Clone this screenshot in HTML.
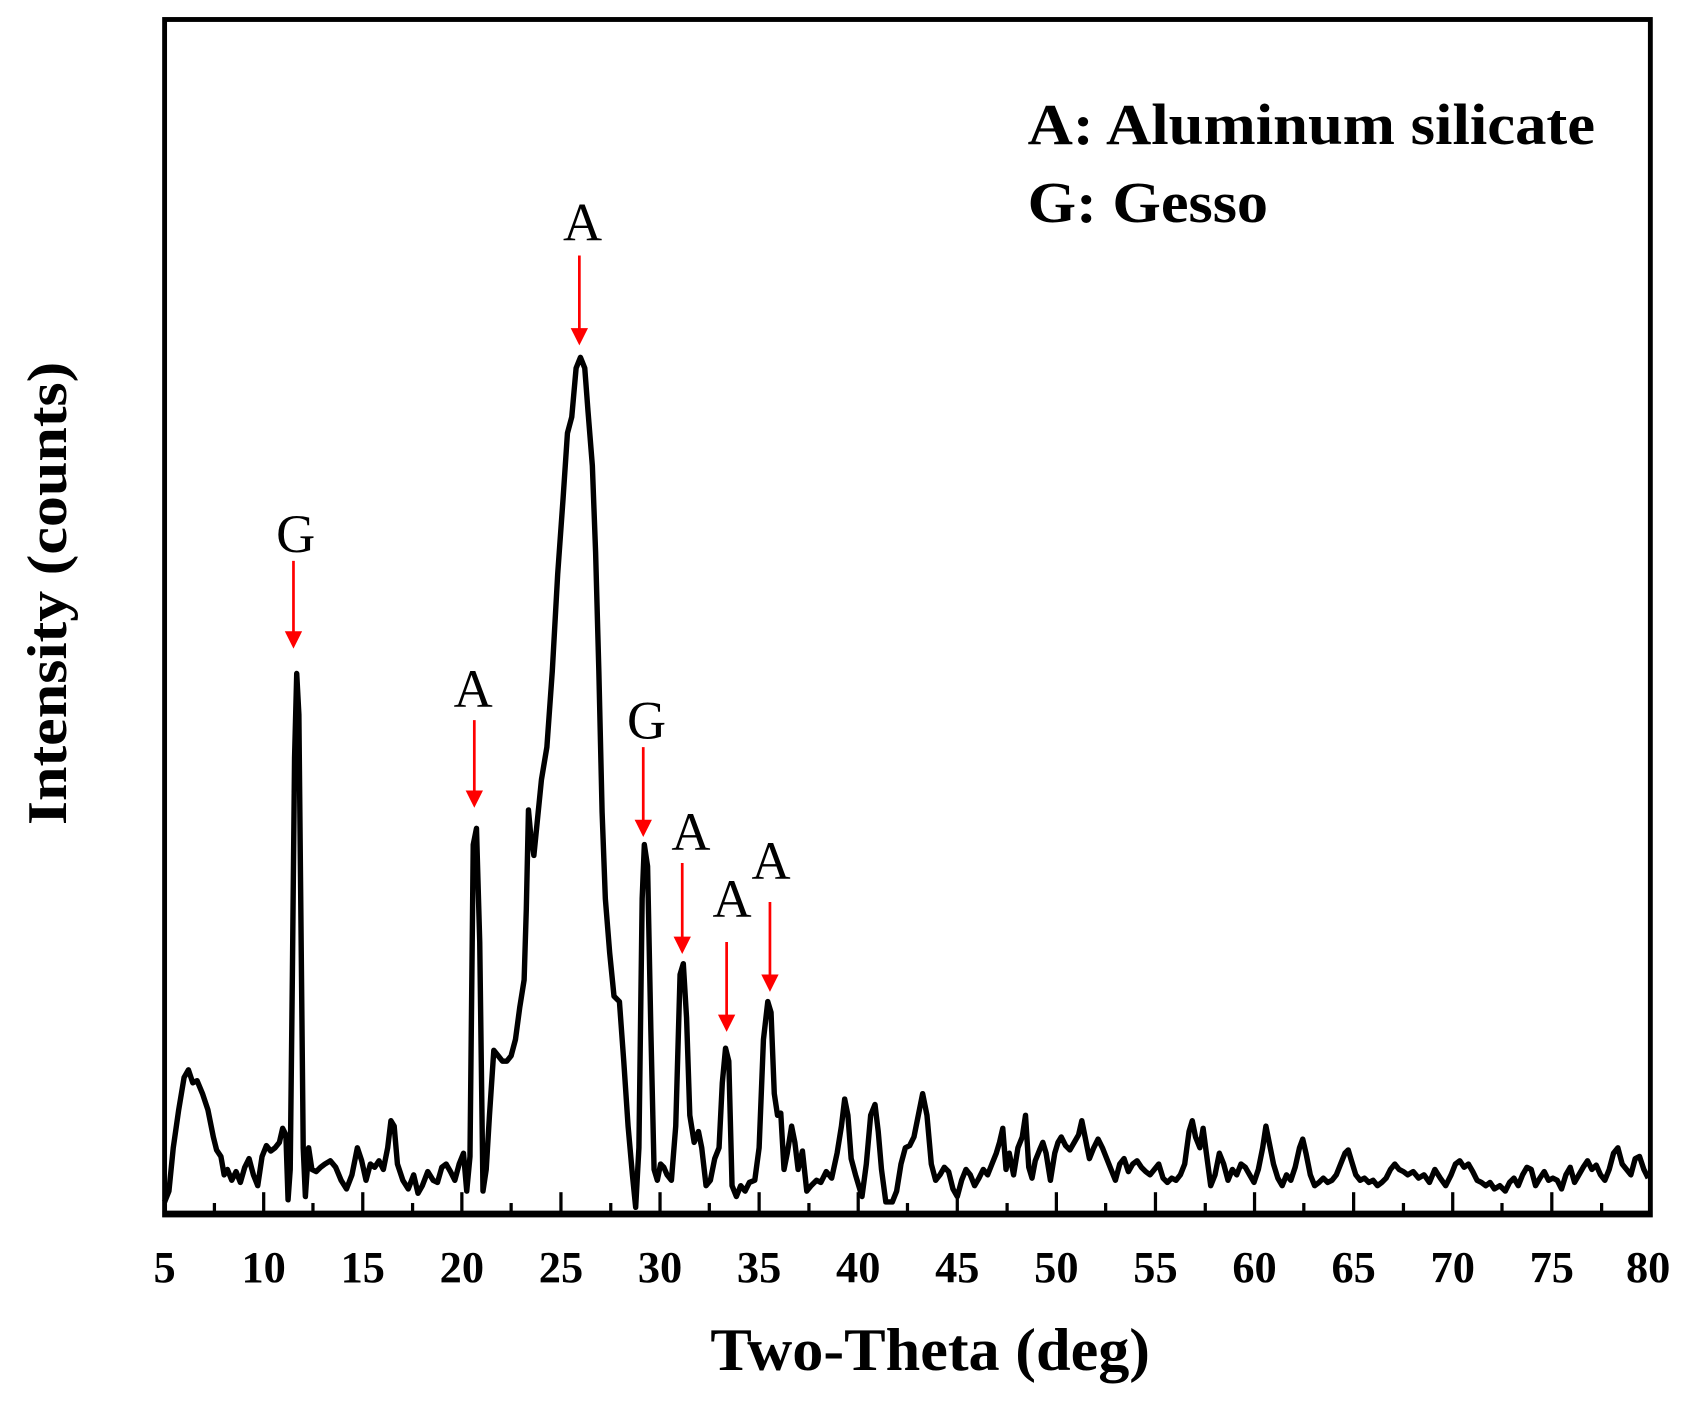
<!DOCTYPE html>
<html><head><meta charset="utf-8"><style>
html,body{margin:0;padding:0;background:#fff;}
svg{display:block;}
</style></head><body>
<svg width="1698" height="1412" viewBox="0 0 1568 1304" preserveAspectRatio="none" xmlns="http://www.w3.org/2000/svg">
<rect width="1568" height="1304" fill="#fff"/>
<g font-family="'Liberation Serif', serif">
<polyline fill="none" stroke="#000" stroke-width="5" stroke-linejoin="round" points="152,1110 156,1100 160,1060 165,1025 170,995 174,988 178,1000 182,998 187,1010 192,1025 197,1050 200,1062 204,1068 207,1085 210,1080 214,1090 218,1082 222,1092 226,1078 230,1070 234,1085 238,1095 242,1068 246,1058 250,1063 254,1060 258,1055 261,1042 264,1048 266,1108 268,1080 270,900 272,700 274,622 276,660 278,860 280,1060 282,1105 285,1060 288,1080 292,1082 296,1078 300,1075 305,1072 310,1078 315,1090 320,1098 325,1085 330,1060 334,1072 338,1090 342,1075 346,1078 350,1072 354,1080 358,1060 361,1035 364,1040 367,1075 372,1090 377,1098 382,1085 386,1102 390,1095 395,1082 400,1090 404,1092 408,1078 412,1075 416,1082 420,1090 424,1075 428,1065 431,1100 434,1068 437,780 440,765 443,870 446,1100 449,1080 452,1030 456,970 460,975 464,980 468,980 472,975 476,960 480,930 484,905 486,840 488,748 490,770 493,790 496,760 500,720 505,690 510,620 515,530 520,460 524,400 528,385 532,340 536,330 540,340 543,380 547,430 550,510 553,620 556,750 559,830 563,880 567,920 572,925 576,980 580,1040 584,1085 587,1115 590,1060 593,830 595,780 598,800 601,950 604,1080 607,1090 610,1075 613,1078 616,1085 620,1090 624,1040 628,900 631,890 634,940 637,1030 641,1055 645,1045 648,1060 652,1095 656,1090 660,1070 664,1060 667,1000 670,968 673,980 676,1095 680,1105 684,1095 688,1100 692,1092 697,1090 701,1060 705,960 709,925 712,935 715,1010 718,1030 721,1028 724,1080 727,1065 731,1040 734,1055 737,1080 741,1063 745,1100 749,1095 754,1090 758,1092 763,1082 768,1088 773,1065 777,1040 780,1015 783,1030 786,1070 790,1085 793,1095 796,1105 800,1075 804,1030 808,1020 811,1045 814,1080 818,1110 824,1110 828,1100 832,1075 836,1060 840,1058 844,1050 848,1030 852,1010 856,1030 860,1075 864,1090 868,1085 872,1078 876,1082 880,1098 884,1105 888,1090 892,1080 896,1085 900,1095 904,1088 908,1080 912,1085 916,1075 920,1065 923,1055 926,1042 929,1080 932,1065 936,1085 940,1060 944,1050 947,1030 950,1078 953,1088 956,1072 960,1062 963,1055 966,1065 970,1090 974,1065 977,1055 980,1050 984,1058 988,1062 992,1055 996,1048 999,1035 1002,1050 1006,1070 1010,1060 1014,1052 1018,1060 1022,1070 1026,1080 1030,1090 1034,1075 1038,1070 1042,1082 1046,1075 1050,1072 1054,1078 1058,1082 1062,1085 1066,1080 1070,1075 1074,1088 1078,1092 1082,1088 1086,1090 1090,1085 1094,1075 1098,1045 1101,1035 1104,1050 1108,1060 1111,1042 1114,1065 1118,1095 1122,1085 1126,1065 1130,1075 1134,1090 1138,1080 1142,1085 1146,1075 1150,1078 1154,1085 1158,1092 1162,1080 1166,1060 1169,1040 1172,1055 1176,1075 1180,1088 1184,1095 1188,1085 1192,1090 1196,1078 1200,1060 1203,1052 1206,1065 1210,1085 1214,1095 1218,1092 1222,1088 1226,1092 1230,1090 1234,1085 1238,1075 1242,1065 1245,1062 1248,1072 1252,1085 1256,1090 1260,1088 1264,1092 1268,1090 1272,1095 1276,1092 1280,1088 1284,1080 1288,1075 1292,1080 1296,1082 1300,1085 1305,1082 1310,1088 1315,1085 1320,1092 1325,1080 1330,1088 1335,1095 1340,1085 1344,1075 1348,1072 1352,1078 1356,1075 1360,1082 1364,1090 1368,1092 1372,1095 1376,1092 1380,1098 1385,1095 1390,1100 1394,1092 1398,1088 1402,1095 1406,1085 1410,1078 1414,1080 1418,1095 1422,1088 1426,1082 1430,1090 1434,1088 1438,1090 1442,1098 1446,1085 1450,1078 1454,1092 1458,1085 1462,1078 1466,1072 1470,1080 1474,1076 1478,1085 1482,1090 1486,1080 1490,1065 1494,1060 1498,1075 1502,1080 1506,1085 1510,1070 1514,1068 1518,1080 1522,1088"/>
<rect x="152" y="18" width="1372" height="1104" fill="none" stroke="#000" stroke-width="4.5"/>
<line x1="150" y1="1121" x2="1526" y2="1121" stroke="#000" stroke-width="6"/>
<g stroke="#000" stroke-width="3">
<line x1="243.5" y1="1121" x2="243.5" y2="1101"/><line x1="335" y1="1121" x2="335" y2="1101"/><line x1="426.5" y1="1121" x2="426.5" y2="1101"/><line x1="518" y1="1121" x2="518" y2="1101"/><line x1="609.5" y1="1121" x2="609.5" y2="1101"/><line x1="701" y1="1121" x2="701" y2="1101"/><line x1="792.5" y1="1121" x2="792.5" y2="1101"/><line x1="884" y1="1121" x2="884" y2="1101"/><line x1="975.5" y1="1121" x2="975.5" y2="1101"/><line x1="1067" y1="1121" x2="1067" y2="1101"/><line x1="1158.5" y1="1121" x2="1158.5" y2="1101"/><line x1="1250" y1="1121" x2="1250" y2="1101"/><line x1="1341.5" y1="1121" x2="1341.5" y2="1101"/><line x1="1433" y1="1121" x2="1433" y2="1101"/>
<line x1="198" y1="1121" x2="198" y2="1111"/><line x1="289" y1="1121" x2="289" y2="1111"/><line x1="381" y1="1121" x2="381" y2="1111"/><line x1="472" y1="1121" x2="472" y2="1111"/><line x1="564" y1="1121" x2="564" y2="1111"/><line x1="655" y1="1121" x2="655" y2="1111"/><line x1="747" y1="1121" x2="747" y2="1111"/><line x1="838" y1="1121" x2="838" y2="1111"/><line x1="930" y1="1121" x2="930" y2="1111"/><line x1="1021" y1="1121" x2="1021" y2="1111"/><line x1="1113" y1="1121" x2="1113" y2="1111"/><line x1="1204" y1="1121" x2="1204" y2="1111"/><line x1="1296" y1="1121" x2="1296" y2="1111"/><line x1="1387" y1="1121" x2="1387" y2="1111"/><line x1="1479" y1="1121" x2="1479" y2="1111"/>
</g>
<g font-size="41" font-weight="bold" text-anchor="middle">
<text x="152" y="1184">5</text><text x="243.5" y="1184">10</text><text x="335" y="1184">15</text><text x="426.5" y="1184">20</text><text x="518" y="1184">25</text><text x="609.5" y="1184">30</text><text x="701" y="1184">35</text><text x="792.5" y="1184">40</text><text x="884" y="1184">45</text><text x="975.5" y="1184">50</text><text x="1067" y="1184">55</text><text x="1158.5" y="1184">60</text><text x="1250" y="1184">65</text><text x="1341.5" y="1184">70</text><text x="1433" y="1184">75</text><text x="1522" y="1184">80</text>
</g>
<text x="656" y="1265" font-size="56" font-weight="bold" textLength="406" lengthAdjust="spacingAndGlyphs">Two-Theta (deg)</text>
<text transform="translate(61,762) rotate(-90)" font-size="52" font-weight="bold" textLength="428" lengthAdjust="spacingAndGlyphs">Intensity (counts)</text>
<text x="949" y="133" font-size="54" font-weight="bold" textLength="524" lengthAdjust="spacingAndGlyphs">A: Aluminum silicate</text>
<text x="949" y="205" font-size="54" font-weight="bold" textLength="222" lengthAdjust="spacingAndGlyphs">G: Gesso</text>
<g font-size="50" text-anchor="middle">
<text x="273" y="510">G</text><text x="437" y="653">A</text><text x="538" y="222">A</text><text x="597" y="682">G</text><text x="638" y="785">A</text><text x="676" y="847">A</text><text x="712" y="812">A</text>
</g>
<g stroke="#f00" stroke-width="2.5" fill="#f00">
<line x1="271" y1="518" x2="271" y2="585"/><polygon points="263,583 279,583 271,599" stroke="none"/>
<line x1="438" y1="665" x2="438" y2="732"/><polygon points="430,730 446,730 438,746" stroke="none"/>
<line x1="535" y1="236" x2="535" y2="305"/><polygon points="527,303 543,303 535,319" stroke="none"/>
<line x1="594" y1="690" x2="594" y2="759"/><polygon points="586,757 602,757 594,773" stroke="none"/>
<line x1="630" y1="797" x2="630" y2="867"/><polygon points="622,865 638,865 630,881" stroke="none"/>
<line x1="671" y1="870" x2="671" y2="939"/><polygon points="663,937 679,937 671,953" stroke="none"/>
<line x1="711" y1="833" x2="711" y2="902"/><polygon points="703,900 719,900 711,916" stroke="none"/>
</g>
</g>
</svg>
</body></html>
